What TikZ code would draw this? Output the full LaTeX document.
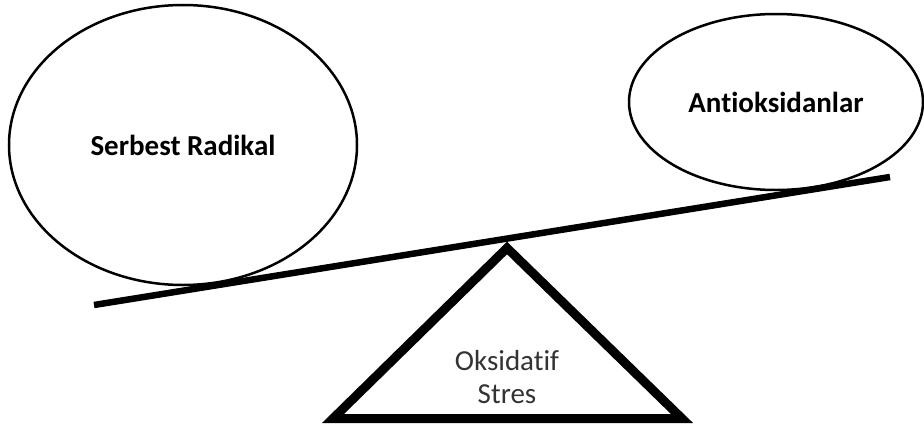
\documentclass[tikz,border=0pt]{standalone}
\usepackage{fontspec}
\setmainfont{Carlito}[Ligatures=NoCommon]
\usetikzlibrary{shapes,positioning}

\begin{document}
\begin{tikzpicture}[x=1pt,y=-1pt,
    bubble/.style={draw, ellipse, line width=2.5pt, inner sep=0pt, font=\fontsize{29}{34}\selectfont\bfseries}]
    \useasboundingbox (0,0) rectangle (924,431);
    % Weights
    \node[bubble, minimum width=348pt, minimum height=280pt] (radikal) at (183,145) {Serbest Radikal};
    \node[bubble, minimum width=294pt, minimum height=176pt] (anti) at (776,102) {Antioksidanlar};
    
    % Beam
    \coordinate (lend) at (94,305);
    \coordinate (rend) at (890,177);
    \draw[line width=6.5pt] (lend) -- (rend);
    
    % Fulcrum
    \coordinate (apex) at (507,248);
    \coordinate (bl) at (333,418.5);
    \coordinate (br) at (682,418.5);
    \draw[line width=9pt] (apex) -- (br) -- (bl) -- cycle;
    \node[align=center, text=black!80, font=\fontsize{29}{33}\selectfont] (stres) at (507,377) {Oksidatif\\Stres};
\end{tikzpicture}
\end{document}
